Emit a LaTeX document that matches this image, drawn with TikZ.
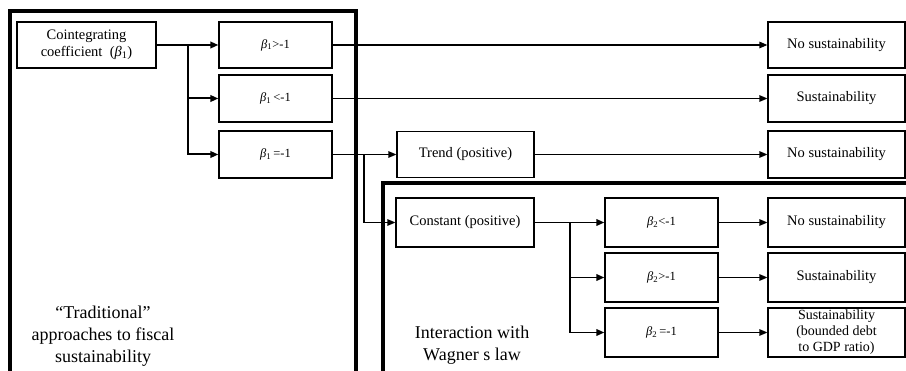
\documentclass[tikz,border=0pt]{standalone}
\usepackage{fontspec}
\setmainfont{Liberation Serif}
\usetikzlibrary{arrows.meta,positioning}

\tikzset{
  box/.style={draw, line width=1.2pt, minimum width=137pt, minimum height=46pt,
    align=center, inner sep=1pt, font=\fontsize{14.5}{17}\selectfont},
  cond/.style={box, minimum width=113pt, font=\fontsize{12.5}{14}\selectfont},
  arr/.style={line width=1.3pt, -{Triangle[length=8pt,width=6.5pt]}},
  frame/.style={line width=3.3pt},
  areatext/.style={align=center, font=\fontsize{18}{22}\selectfont}
}
\newcommand{\bb}[1]{{\itshape β}\textsubscript{#1}}

\begin{document}
\begin{tikzpicture}[x=1pt,y=-1pt]
    \useasboundingbox (0,0) rectangle (906,371);

    % Frames
    \draw [frame] (10,11) rectangle (356,395);
    \draw [frame] (383,183) rectangle (930,395);
    \node [areatext] (trad) at (103,336) {“Traditional”\\approaches to fiscal\\sustainability};
    \node [areatext] (wagner) at (472,345) {Interaction with\\Wagner s law};

    % Cointegrating coefficient
    \node [box, minimum width=139pt] (coint) at (86.5,45) {Cointegrating\\coefficient\ \ (\bb{1})};
    \node [cond] (b1gt) at (275.5,45) {\bb{1}>-1};
    \node [cond, minimum height=47pt] (b1lt) at (275.5,98.5) {\bb{1}\,<-1};
    \node [cond, minimum height=47pt] (b1eq) at (275.5,154.5) {\bb{1}\,=-1};
    \coordinate (split1) at (188,45);
    \draw [arr, line width=2pt] (coint) -- (b1gt);
    \draw [arr, line width=2pt] (split1) |- (b1lt);
    \draw [arr, line width=2pt] (split1) |- (b1eq);

    % Outcomes
    \node [box] (r1) at (836.5,45) {No sustainability};
    \node [box, minimum height=47pt] (r2) at (836.5,98.5) {Sustainability};
    \node [box, minimum height=47pt] (r3) at (836.5,154.5) {No sustainability};
    \draw [arr] (b1gt) -- (r1);
    \draw [arr] (b1lt) -- (r2);

    % Trend and constant
    \node [box] (trend) at (465.5,154.5) {Trend (positive)};
    \node [box, minimum width=138pt, minimum height=49pt] (const) at (465,222.5) {Constant (positive)};
    \coordinate (split2) at (364,154.5);
    \draw [arr] (b1eq) -- (trend);
    \draw [arr] (split2) |- (const);
    \draw [arr] (trend) -- (r3);

    % Wagner part
    \node [cond, minimum height=49pt] (b2lt) at (661.5,222.5) {\bb{2}<-1};
    \node [cond, minimum height=49pt] (b2gt) at (661.5,277.5) {\bb{2}>-1};
    \node [cond, minimum height=49pt] (b2eq) at (661.5,332.5) {\bb{2}\,=-1};
    \coordinate (split3) at (570,222.5);
    \draw [arr, line width=1.8pt] (const) -- (b2lt);
    \draw [arr, line width=1.8pt] (split3) |- (b2gt);
    \draw [arr, line width=1.8pt] (split3) |- (b2eq);

    \node [box, minimum height=49pt] (r4) at (836.5,222.5) {No sustainability};
    \node [box, minimum height=49pt] (r5) at (836.5,277.5) {Sustainability};
    \node [box, minimum height=49pt, font=\fontsize{14}{16}\selectfont] (r6) at (836.5,332.5) {Sustainability\\(bounded debt\\to GDP ratio)};
    \draw [arr] (b2lt) -- (r4);
    \draw [arr] (b2gt) -- (r5);
    \draw [arr] (b2eq) -- (r6);
\end{tikzpicture}
\end{document}
